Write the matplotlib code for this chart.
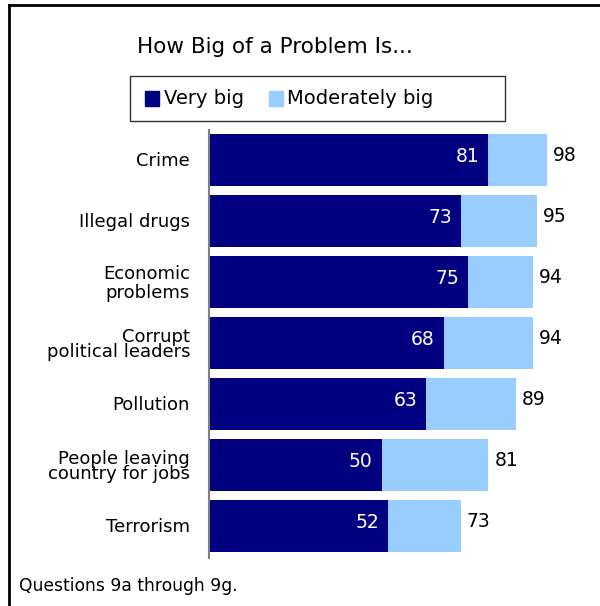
import matplotlib.pyplot as plt
from matplotlib.patches import Rectangle
from matplotlib.transforms import blended_transform_factory

categories = ['Crime', 'Illegal drugs', 'Economic\nproblems', 'Corrupt\npolitical leaders',
              'Pollution', 'People leaving\ncountry for jobs', 'Terrorism']
very_big = [81, 73, 75, 68, 63, 50, 52]
total = [98, 95, 94, 94, 89, 81, 73]
moderately_big = [t - v for t, v in zip(total, very_big)]

dark = '#000080'
light = '#99CCFF'

fig = plt.figure(figsize=(6, 6.06), dpi=100)
W, H = 600, 606

# outer frame (left + top only visible)
fig.add_artist(plt.Line2D([9 / W, 9 / W], [0, 1 - 5 / H], color='black', lw=2))
fig.add_artist(plt.Line2D([9 / W, 1], [1 - 5 / H, 1 - 5 / H], color='black', lw=2))

ax = fig.add_axes([209 / W, (H - 558) / H, (554 - 209) / W, (558 - 130) / H])
pos = list(range(len(categories)))
ax.barh(pos, very_big, height=52 / 61, color=dark, left=0)
ax.barh(pos, moderately_big, height=52 / 61, color=light, left=very_big)
ax.set_xlim(0, 100)
ax.set_ylim(6 + 32 / 61, -30 / 61)

for i in pos:
    ax.text(very_big[i] - 2.6, i - 0.05, str(very_big[i]), color='white', ha='right', va='center', fontsize=13.5)
    ax.text(total[i] + 1.7, i - 0.07, str(total[i]), color='black', ha='left', va='center', fontsize=13.5)

# category labels, per-label line spacing
trans = blended_transform_factory(ax.transAxes, ax.transData)
spacing = [1, 1, 1.1, 0.78, 1, 0.78, 1]
for i in pos:
    ax.text(-0.055, i + 0.02, categories[i], transform=trans, ha='right', va='center',
            fontsize=13, linespacing=spacing[i], multialignment='right')

ax.set_yticks([])
ax.set_xticks([])
for s in ['top', 'right', 'bottom']:
    ax.spines[s].set_visible(False)
ax.spines['left'].set_color('#808080')
ax.spines['left'].set_linewidth(1.5)

fig.text(275 / W, 1 - 47 / H, 'How Big of a Problem Is...', ha='center', va='center', fontsize=15.5)

# legend box
fig.add_artist(Rectangle((130 / W, 1 - 121 / H), (505 - 130) / W, 45 / H,
                         transform=fig.transFigure, fill=False, edgecolor='#333333', lw=1))
fig.add_artist(Rectangle((145 / W, 1 - 106 / H), 14 / W, 15 / H,
                         transform=fig.transFigure, color=dark))
fig.text(164 / W, 1 - 98 / H, 'Very big', ha='left', va='center', fontsize=14)
fig.add_artist(Rectangle((269 / W, 1 - 106 / H), 14 / W, 15 / H,
                         transform=fig.transFigure, color=light))
fig.text(287 / W, 1 - 98 / H, 'Moderately big', ha='left', va='center', fontsize=14)

fig.text(19 / W, 1 - 586 / H, 'Questions 9a through 9g.', ha='left', va='center', fontsize=12.3)

fig.savefig('out.png', dpi=100, facecolor='white')
